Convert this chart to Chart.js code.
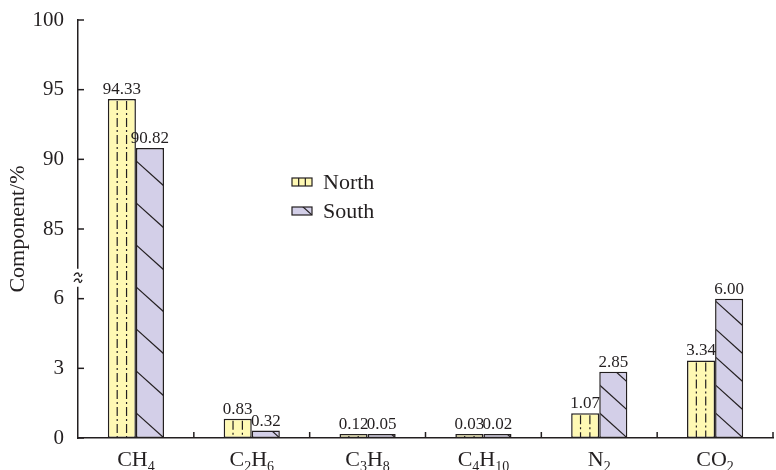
<!DOCTYPE html>
<html>
<head>
<meta charset="utf-8">
<script src="https://cdn.jsdelivr.net/npm/chart.js@4.4.1/dist/chart.umd.min.js"></script>
<style>
  body { margin: 0; background: #fff; }
</style>
</head>
<body>
<canvas id="myChart" width="776" height="470"></canvas>
<script>
const categories = ['CH4', 'C2H6', 'C3H8', 'C4H10', 'N2', 'CO2'];
const northValues = [94.33, 0.83, 0.12, 0.03, 1.07, 3.34];
const southValues = [90.82, 0.32, 0.05, 0.02, 2.85, 6.00];
const yTickLabels = [0, 3, 6, 85, 90, 95, 100];

const serif = "'Liberation Serif', 'Times New Roman', serif";
const ink = '#231f20';
const northFill = '#fff9b4';
const southFill = '#d3cfe8';

// broken axis: each tick interval takes one unit on the scale
function toAxis(v) {
    for (let i = 0; i < yTickLabels.length - 1; i++) {
        if (v <= yTickLabels[i + 1]) {
            return i + (v - yTickLabels[i]) / (yTickLabels[i + 1] - yTickLabels[i]);
        }
    }
    return yTickLabels.length - 1;
}

function dashDot(ctx, x0, y0, w, h) {
    ctx.save();
    ctx.strokeStyle = ink;
    ctx.lineWidth = 1.2;
    ctx.setLineDash([9, 3, 2, 3]);
    [1 / 3, 2 / 3].forEach(f => {
        ctx.beginPath();
        ctx.moveTo(x0 + w * f, y0 + 2);
        ctx.lineTo(x0 + w * f, y0 + h);
        ctx.stroke();
    });
    ctx.restore();
}

function diagonals(ctx, x0, y0, w, h, spacing) {
    ctx.save();
    ctx.strokeStyle = ink;
    ctx.lineWidth = 1.2;
    const slope = 0.9;
    const bottom = y0 + h;
    for (let k = 0; bottom - k * spacing + slope * w > y0 - 2 && k < 50; k++) {
        const yr = bottom - k * spacing;
        ctx.beginPath();
        ctx.moveTo(x0, yr - slope * w);
        ctx.lineTo(x0 + w, yr);
        ctx.stroke();
    }
    ctx.restore();
}

const decor = {
    id: 'decor',
    afterDatasetsDraw(chart) {
        const ctx = chart.ctx;
        const breakY = chart.scales.y.getPixelForValue(2.5);
        chart.data.datasets.forEach((ds, di) => {
            const meta = chart.getDatasetMeta(di);
            meta.data.forEach((el, i) => {
                const p = el.getProps(['x', 'y', 'base', 'width'], true);
                const x0 = p.x - p.width / 2;
                const h = p.base - p.y;
                ctx.save();
                ctx.beginPath();
                ctx.rect(x0 + 1, p.y + 1, p.width - 2, Math.max(h - 2, 0));
                ctx.clip();
                if (di === 0) dashDot(ctx, x0, p.y, p.width, h);
                else diagonals(ctx, x0, p.y, p.width, h, p.y < breakY ? 42 : 28);
                ctx.restore();

                // value label
                ctx.save();
                ctx.font = '17px ' + serif;
                ctx.fillStyle = ink;
                ctx.textAlign = 'center';
                ctx.textBaseline = 'alphabetic';
                ctx.fillText(ds.raw[i].toFixed(2), p.x, p.y - 5);
                ctx.restore();
            });
        });
    },
    afterDraw(chart) {
        const ctx = chart.ctx;
        const ca = chart.chartArea;
        const xs = chart.scales.x, ys = chart.scales.y;
        ctx.save();
        ctx.strokeStyle = ink;
        ctx.lineWidth = 1.5;

        // inward y ticks
        yTickLabels.forEach((t, i) => {
            const y = ys.getPixelForValue(i);
            ctx.beginPath();
            ctx.moveTo(ca.left, y);
            ctx.lineTo(ca.left + 6, y);
            ctx.stroke();
        });

        // x ticks between categories
        for (let k = 1; k <= categories.length; k++) {
            const x = k < categories.length
                ? (xs.getPixelForValue(k - 1) + xs.getPixelForValue(k)) / 2
                : ca.right;
            ctx.beginPath();
            ctx.moveTo(x, ca.bottom);
            ctx.lineTo(x, ca.bottom - 6);
            ctx.stroke();
        }

        // axis break mark
        const by = ys.getPixelForValue(2.3);
        ctx.fillStyle = '#fff';
        ctx.fillRect(ca.left - 3, by - 9, 6, 18);
        ctx.lineWidth = 1.3;
        [-3, 3].forEach(dy => {
            const cy = by + dy;
            ctx.beginPath();
            ctx.moveTo(ca.left - 4, cy + 1);
            ctx.bezierCurveTo(ca.left - 2, cy - 3, ca.left + 1, cy - 2, ca.left + 1, cy);
            ctx.bezierCurveTo(ca.left + 1, cy + 2, ca.left + 3, cy + 3, ca.left + 4, cy - 1);
            ctx.stroke();
        });

        // category labels with subscripts
        ctx.fillStyle = ink;
        ctx.textBaseline = 'alphabetic';
        categories.forEach((c, i) => {
            const parts = c.match(/[A-Za-z]+|\d+/g);
            let total = 0;
            const sized = parts.map(s => {
                const sub = /\d/.test(s);
                ctx.font = (sub ? '14px ' : '22px ') + serif;
                const w = ctx.measureText(s).width;
                total += w;
                return { s, sub, w };
            });
            let x = xs.getPixelForValue(i) - total / 2;
            sized.forEach(o => {
                ctx.font = (o.sub ? '14px ' : '22px ') + serif;
                ctx.textAlign = 'left';
                ctx.fillText(o.s, x, o.sub ? 471 : 466);
                x += o.w;
            });
        });

        // legend
        const items = [
            { label: 'North', fill: northFill, y: 178, draw: dashDot },
            { label: 'South', fill: southFill, y: 207, draw: (c, x0, y0, w, h) => diagonals(c, x0, y0, w, h, 9) }
        ];
        items.forEach(it => {
            ctx.fillStyle = it.fill;
            ctx.fillRect(292, it.y, 20, 8);
            ctx.save();
            ctx.beginPath();
            ctx.rect(292, it.y, 20, 8);
            ctx.clip();
            it.draw(ctx, 292, it.y - 2, 20, 10);
            ctx.restore();
            ctx.lineWidth = 1.2;
            ctx.strokeStyle = ink;
            ctx.strokeRect(292, it.y, 20, 8);
            ctx.fillStyle = ink;
            ctx.font = '22px ' + serif;
            ctx.textAlign = 'left';
            ctx.fillText(it.label, 323, it.y + 11);
        });
        ctx.restore();
    }
};

const ctx = document.getElementById('myChart');

const myChart = new Chart(ctx, {
    type: 'bar',
    data: {
        labels: categories,
        datasets: [
            {
                label: 'North',
                data: northValues.map(toAxis),
                raw: northValues,
                backgroundColor: northFill,
                borderColor: ink,
                borderWidth: 1.5,
                borderSkipped: false
            },
            {
                label: 'South',
                data: southValues.map(toAxis),
                raw: southValues,
                backgroundColor: southFill,
                borderColor: ink,
                borderWidth: 1.5,
                borderSkipped: false
            }
        ]
    },
    options: {
        responsive: false,
        animation: false,
        datasets: { bar: { barPercentage: 1, categoryPercentage: 0.485, minBarLength: 4 } },
        layout: { padding: { top: 20, right: 3, left: 0, bottom: 0 } },
        plugins: {
            legend: { display: false },
            tooltip: { enabled: false }
        },
        scales: {
            x: {
                offset: true,
                grid: { display: false, drawTicks: false },
                border: { display: true, color: ink, width: 1.5 },
                ticks: { display: false },
                afterFit: s => { s.height = 32; }
            },
            y: {
                min: 0,
                max: yTickLabels.length - 1,
                grid: { display: false, drawTicks: false },
                border: { display: true, color: ink, width: 1.5 },
                ticks: {
                    stepSize: 1,
                    padding: 14,
                    color: ink,
                    font: { family: serif, size: 21 },
                    callback: v => yTickLabels[v]
                },
                title: {
                    display: true,
                    text: 'Component/%',
                    color: ink,
                    font: { family: serif, size: 22 },
                    padding: { top: 5, bottom: 0 }
                },
                afterFit: s => {
                    s.width = 78;
                    s.paddingTop = 0;
                    s.paddingBottom = 0;
                }
            }
        }
    },
    plugins: [decor]
});
</script>
</body>
</html>
